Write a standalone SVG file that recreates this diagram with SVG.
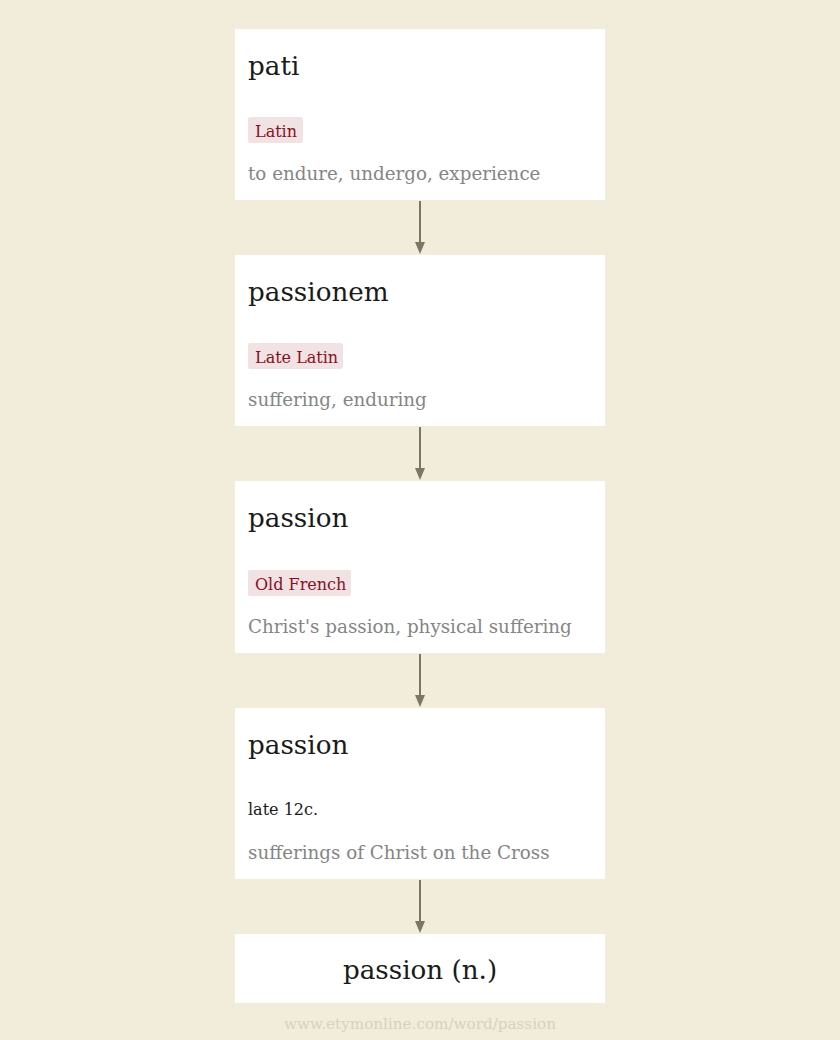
<svg xmlns="http://www.w3.org/2000/svg" width="840" height="1040" viewBox="0 0 840 1040">
<defs>
<style>
.bg{fill:#f2ecda}
.box{fill:#ffffff}
.title{font-family:"DejaVu Serif","Liberation Serif",serif;font-size:26.2px;fill:#1a1a1a}
.tag{fill:#f1e2e3}
.tagt{font-family:"DejaVu Serif","Liberation Serif",serif;font-size:16px;fill:#8a0f25}
.def{font-family:"DejaVu Serif","Liberation Serif",serif;font-size:18.3px;fill:#858585}
.date{font-family:"DejaVu Serif","Liberation Serif",serif;font-size:16px;fill:#1a1a1a}
.foot{font-family:"DejaVu Serif","Liberation Serif",serif;font-size:15.2px;fill:#d9d1bf}
.conn{stroke:#7b7767;stroke-width:2;fill:none}
.head{fill:#7b7767}
</style>
</defs>
<rect class="bg" x="0" y="0" width="840" height="1040"/>
<g id="connectors">
<line class="conn" x1="420" y1="201" x2="420" y2="244"/><path class="head" d="M415,242 L425,242 L420,254 Z"/>
<line class="conn" x1="420" y1="427" x2="420" y2="470"/><path class="head" d="M415,468 L425,468 L420,480 Z"/>
<line class="conn" x1="420" y1="654" x2="420" y2="697"/><path class="head" d="M415,695 L425,695 L420,707 Z"/>
<line class="conn" x1="420" y1="880" x2="420" y2="923"/><path class="head" d="M415,921 L425,921 L420,933 Z"/>
</g>
<g id="node-pati">
<rect class="box" x="235" y="29" width="370" height="171"/>
<text class="title" x="248" y="75">pati</text>
<rect class="tag" x="248" y="117" width="55" height="26" rx="2"/>
<text class="tagt" x="255" y="137">Latin</text>
<text class="def" x="248" y="180">to endure, undergo, experience</text>
</g>
<g id="node-passionem">
<rect class="box" x="235" y="255" width="370" height="171"/>
<text class="title" x="248" y="301">passionem</text>
<rect class="tag" x="248" y="343" width="95" height="26" rx="2"/>
<text class="tagt" x="255" y="363">Late Latin</text>
<text class="def" x="248" y="406">suffering, enduring</text>
</g>
<g id="node-passion-of">
<rect class="box" x="235" y="481" width="370" height="172"/>
<text class="title" x="248" y="527">passion</text>
<rect class="tag" x="248" y="570" width="103" height="26" rx="2"/>
<text class="tagt" x="255" y="590">Old French</text>
<text class="def" x="248" y="633">Christ's passion, physical suffering</text>
</g>
<g id="node-passion-12c">
<rect class="box" x="235" y="708" width="370" height="171"/>
<text class="title" x="248" y="754">passion</text>
<text class="date" x="248" y="815">late 12c.</text>
<text class="def" x="248" y="859">sufferings of Christ on the Cross</text>
</g>
<g id="node-passion-n">
<rect class="box" x="235" y="934" width="370" height="69"/>
<text class="title" x="420" y="979" text-anchor="middle">passion (n.)</text>
</g>
<text class="foot" x="420" y="1029" text-anchor="middle">www.etymonline.com/word/passion</text>
</svg>
